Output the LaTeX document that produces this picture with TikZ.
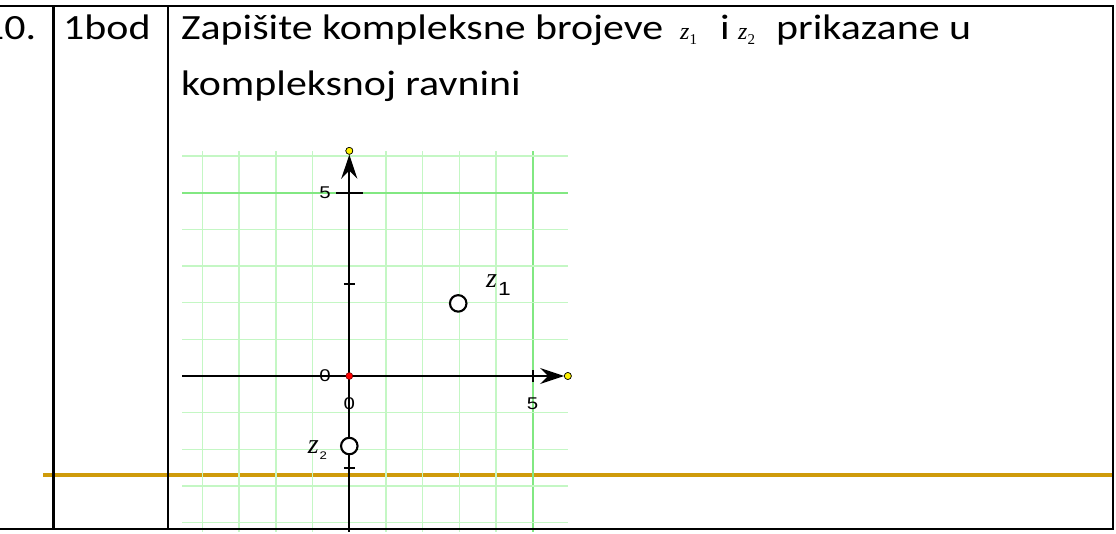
\documentclass[tikz,border=0pt]{standalone}
\usepackage{fontspec}
\setmainfont{Carlito}[FakeStretch=1.18]
\newfontfamily\lblfont{Liberation Sans}[FakeStretch=1.2]
\newfontfamily\tmsfont{Liberation Serif}
\usetikzlibrary{arrows.meta}
\definecolor{gridlight}{RGB}{196,247,196}
\definecolor{gridmaj}{RGB}{130,232,130}
\definecolor{goldline}{RGB}{207,155,10}
\tikzset{
  gridminor/.style={draw=gridlight, line width=1.6pt},
  gridmajor/.style={draw=gridmaj, line width=2pt},
  axisline/.style={draw=black, line width=2.1pt},
  tickline/.style={draw=black, line width=1.9pt},
  tbl/.style={draw=black, line width=2.2pt},
  ptcircle/.style={circle, draw=black, line width=2.1pt, fill=white, minimum size=16.5pt, inner sep=0pt},
  enddot/.style={circle, draw=black, line width=0.6pt, fill=yellow, minimum size=7pt, inner sep=0pt},
  origdot/.style={circle, draw=black!60!red, line width=0.5pt, fill=red, minimum size=7pt, inner sep=0pt},
  axlbl/.style={inner sep=0pt, font=\lblfont\fontsize{17}{17}\selectfont},
  txt/.style={inner sep=0pt, anchor=base west, font=\fontsize{35.5}{40}\selectfont},
  mth/.style={inner sep=0pt, anchor=base west, font=\tmsfont\fontsize{24}{24}\selectfont\itshape},
  arrowtip/.style={-{Stealth[length=24pt,width=16pt,inset=8pt]}},
}
\begin{document}
\begin{tikzpicture}[x=1pt,y=1pt]
\useasboundingbox (0,0) rectangle (1116,533);
\fill[white] (0,0) rectangle (1116,533);
% gold line
\coordinate (oL) at (43,57.7);
\coordinate (oR) at (1114,57.7);
\draw[draw=goldline, line width=4pt] (oL) -- (oR);
% graph
\begin{scope}[shift={(349.3pt,157pt)}, x=36.67pt, y=36.67pt]
  \foreach \i in {-4,-3,-2,-1,1,2,3,4} {
    \coordinate (vb\i) at (\i,-4.25); \coordinate (vt\i) at (\i,6.14);
    \draw[gridminor] (vb\i) -- (vt\i);
  }
  \coordinate (vb5) at (5,-4.25); \coordinate (vt5) at (5,6.14);
  \draw[gridmajor] (vb5) -- (vt5);
  \foreach \j in {-4,-3,-2,-1,1,2,3,4,6} {
    \coordinate (hl\j) at (-4.55,\j); \coordinate (hr\j) at (5.97,\j);
    \draw[gridminor] (hl\j) -- (hr\j);
  }
  \coordinate (hl5) at (-4.55,5); \coordinate (hr5) at (5.97,5);
  \draw[gridmajor] (hl5) -- (hr5);
  % axes
  \coordinate (xl) at (-4.55,0);
  \node[enddot] (xe) at (5.96,0) {};
  \coordinate (yb) at (0,-4.25);
  \node[enddot] (ye) at (0,6.14) {};
  \coordinate (xa) at (4.6,0);
  \coordinate (ya) at (0,4.8);
  \draw[axisline] (xl) -- (xa);
  \draw[axisline] (yb) -- (ya);
  \draw[axisline, arrowtip] (xa) -- (xe.west);
  \draw[axisline, arrowtip] (ya) -- (ye.south);
  \node[enddot] at (5.96,0) {};
  \node[enddot] at (0,6.14) {};
  % ticks
  \coordinate (t5a) at (-0.36,5); \coordinate (t5b) at (0.36,5);
  \draw[tickline] (t5a) -- (t5b);
  \coordinate (t25a) at (-0.15,2.5); \coordinate (t25b) at (0.15,2.5);
  \draw[tickline] (t25a) -- (t25b);
  \coordinate (tm25a) at (-0.15,-2.5); \coordinate (tm25b) at (0.15,-2.5);
  \draw[tickline] (tm25a) -- (tm25b);
  \coordinate (tx5a) at (5,-0.16); \coordinate (tx5b) at (5,0.16);
  \draw[tickline] (tx5a) -- (tx5b);
  % labels
  \node[axlbl] (ly5) at (-0.66,5) {5};
  \node[axlbl] (ly0) at (-0.66,0) {0};
  \node[axlbl] (lx0) at (0,-0.75) {0};
  \node[axlbl] (lx5) at (5,-0.75) {5};
  % origin
  \node[origdot] (O) at (0,0) {};
  % points
  \node[ptcircle] (z1) at (2.97,1.98) {};
  \node[ptcircle] (z2) at (0,-1.91) {};
  \node[inner sep=0pt, font=\tmsfont\fontsize{28}{28}\selectfont\itshape] (z1z) at (3.88,2.6) {z};
  \node[inner sep=0pt, font=\lblfont\fontsize{19}{19}\selectfont] (z1s) at (4.23,2.37) {1};
  \node[inner sep=0pt, font=\tmsfont\fontsize{28}{28}\selectfont\itshape] (z2z) at (-0.98,-1.95) {z};
  \node[inner sep=0pt, font=\lblfont\fontsize{11}{11}\selectfont] (z2s) at (-0.71,-2.18) {2};
\end{scope}
% table lines
\coordinate (TL) at (0,527);
\coordinate (TR) at (1113.3,527);
\coordinate (BL) at (0,3.7);
\coordinate (BR) at (1113.3,3.7);
\coordinate (c1t) at (53.5,527); \coordinate (c1b) at (53.5,3.7);
\coordinate (c2t) at (167.7,527); \coordinate (c2b) at (167.7,3.7);
\draw[tbl] (TL) -- (TR) -- (BR) -- (BL);
\draw[tbl] (c1t) -- (c1b);
\draw[tbl] (c2t) -- (c2b);
% texts
\node[txt] (num) at (-17,493) {10.};
\node[txt] (pts) at (63,493) {1bod};
\node[txt] (l1) at (181,493) {Zapišite kompleksne brojeve};
\node[mth] (m1) at (680,493) {z\raisebox{-5pt}{\upshape\fontsize{15}{15}\selectfont 1}};
\node[txt] (ii) at (720,493) {i};
\node[mth] (m2) at (738,493) {z\raisebox{-5pt}{\upshape\fontsize{15}{15}\selectfont 2}};
\node[txt] (l1b) at (776,493) {prikazane u};
\node[txt] (l2) at (181,437) {kompleksnoj ravnini};
\end{tikzpicture}
\end{document}
